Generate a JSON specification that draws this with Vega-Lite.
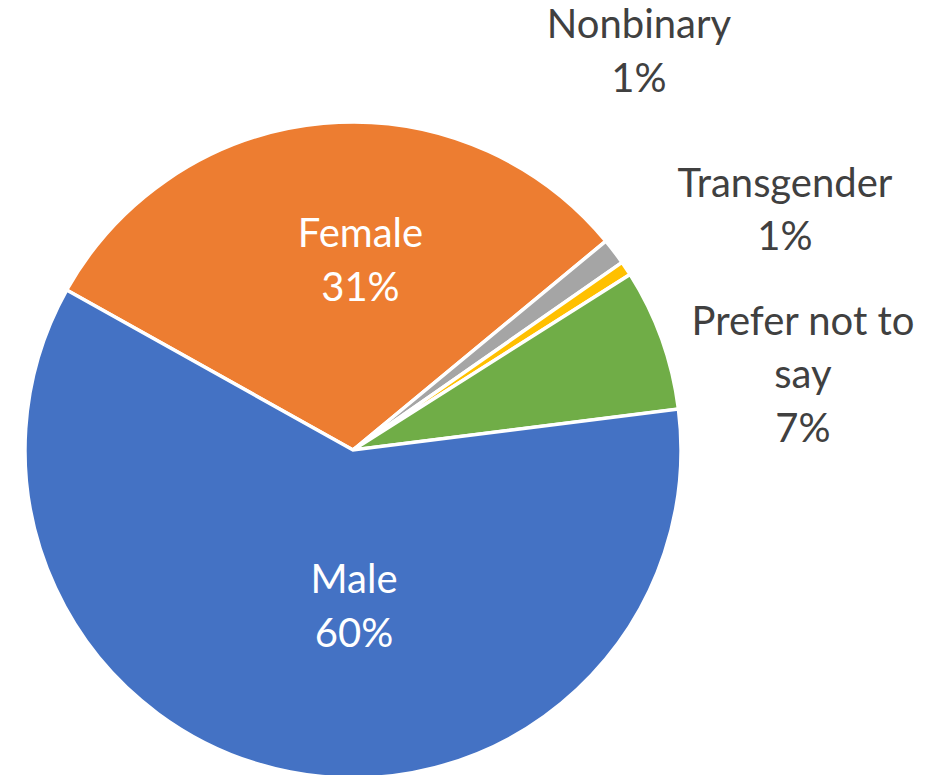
{
  "$schema": "https://vega.github.io/schema/vega-lite/v6.json",
  "width": 656,
  "height": 656,
  "autosize": {"type": "none"},
  "padding": {"left": 25, "top": 122, "right": 252, "bottom": 0},
  "background": "white",
  "config": {"view": {"stroke": null}},
  "data": {
    "values": [
      {"idx": 1, "category": "Female", "label": "Female", "value": 30.9},
      {"idx": 2, "category": "Nonbinary", "label": "Nonbinary", "value": 1.3},
      {"idx": 3, "category": "Transgender", "label": "Transgender", "value": 0.7},
      {"idx": 4, "category": "Prefer not to say", "label": "Prefer not to\nsay", "value": 7.0},
      {"idx": 5, "category": "Male", "label": "Male", "value": 60.1}
    ]
  },
  "transform": [
    {"calculate": "datum.label + '\\n' + format(datum.value / 100, '.0%')", "as": "text"}
  ],
  "encoding": {
    "theta": {"field": "value", "type": "quantitative", "stack": true, "scale": {"range": [5.222, 11.505]}},
    "order": {"field": "idx", "type": "quantitative"}
  },
  "layer": [
    {
      "mark": {"type": "arc", "stroke": "white", "strokeWidth": 3.5},
      "encoding": {
        "color": {
          "field": "category",
          "type": "nominal",
          "scale": {
            "domain": ["Female", "Nonbinary", "Transgender", "Prefer not to say", "Male"],
            "range": ["#ED7D31", "#A5A5A5", "#FFC000", "#70AD47", "#4472C4"]
          },
          "legend": null
        }
      }
    },
    {
      "mark": {"type": "text", "radius": 200, "dx": 25.5, "dy": -3.8, "font": "Lato", "fontSize": 40, "fill": "white", "lineBreak": "\n", "lineHeight": 53.5, "align": "center", "baseline": "alphabetic"},
      "encoding": {"text": {"condition": {"test": "datum.category === 'Female'", "field": "text"}, "value": ""}}
    },
    {
      "mark": {"type": "text", "radius": 150, "dx": 29.7, "dy": -4.2, "font": "Lato", "fontSize": 40, "fill": "white", "lineBreak": "\n", "lineHeight": 53.5, "align": "center", "baseline": "alphabetic"},
      "encoding": {"text": {"condition": {"test": "datum.category === 'Male'", "field": "text"}, "value": ""}}
    },
    {
      "mark": {"type": "text", "radius": 380, "dx": -16.6, "dy": -182, "font": "Lato", "fontSize": 40, "fill": "#404040", "lineBreak": "\n", "lineHeight": 53.5, "align": "center", "baseline": "alphabetic"},
      "encoding": {"text": {"condition": {"test": "datum.category === 'Nonbinary'", "field": "text"}, "value": ""}}
    },
    {
      "mark": {"type": "text", "radius": 380, "dx": 115.5, "dy": -42.6, "font": "Lato", "fontSize": 40, "fill": "#404040", "lineBreak": "\n", "lineHeight": 53.5, "align": "center", "baseline": "alphabetic"},
      "encoding": {"text": {"condition": {"test": "datum.category === 'Transgender'", "field": "text"}, "value": ""}}
    },
    {
      "mark": {"type": "text", "radius": 420, "dx": 54.7, "dy": 27, "font": "Lato", "fontSize": 40, "fill": "#404040", "lineBreak": "\n", "lineHeight": 53.5, "align": "center", "baseline": "alphabetic"},
      "encoding": {"text": {"condition": {"test": "datum.category === 'Prefer not to say'", "field": "text"}, "value": ""}}
    }
  ]
}
